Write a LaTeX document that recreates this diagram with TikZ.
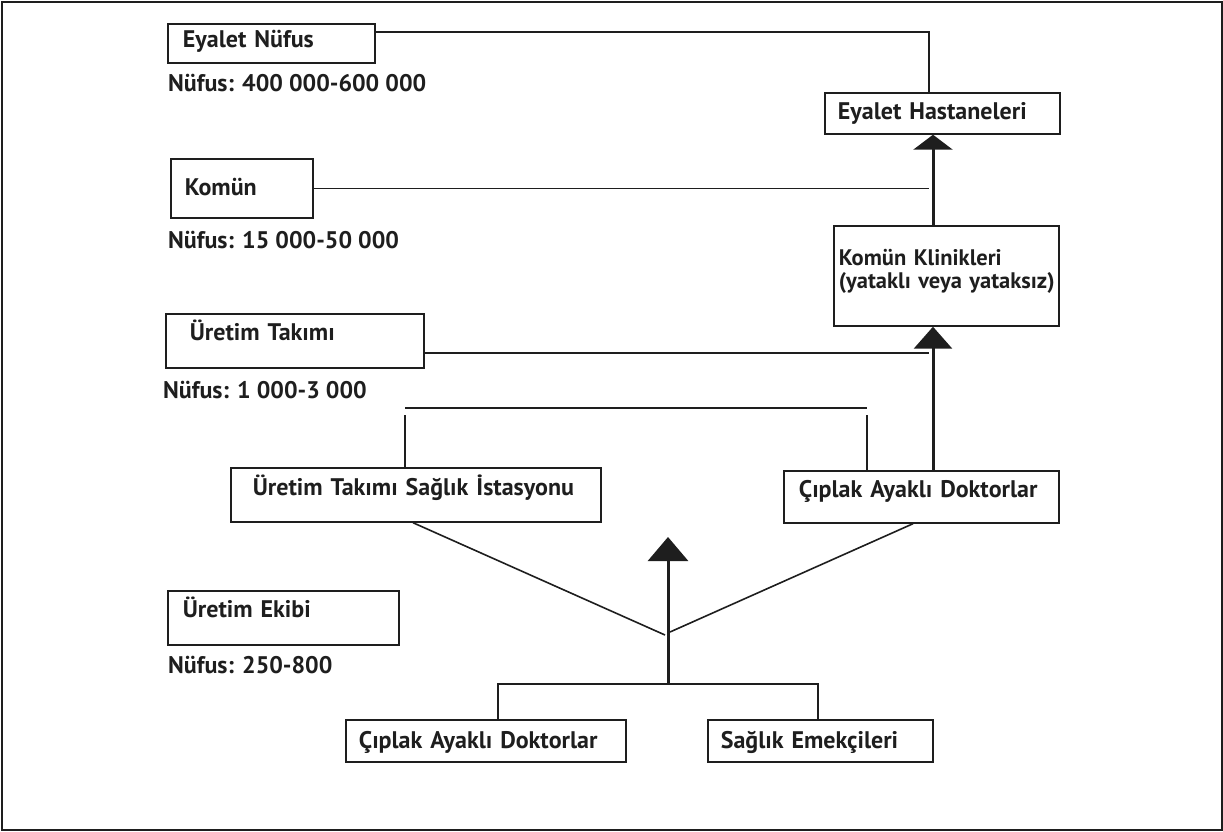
\documentclass[tikz,border=0pt]{standalone}
\usepackage{fontspec}
\setmainfont{PT Sans}
\usetikzlibrary{arrows.meta}
\definecolor{ink}{HTML}{1E1E1E}
\newcommand{\fs}{\fontsize{24}{23}\selectfont\bfseries}
\newcommand{\fss}{\fontsize{22.5}{23}\selectfont\bfseries}
\tikzset{
  box/.style={draw=ink, line width=1.7pt, inner ysep=0pt, align=left, anchor=north west, font=\fs, text=ink},
  lbl/.style={anchor=base west, inner sep=0pt, font=\fs, text=ink},
  ln/.style={draw=ink, line width=1.6pt},
  shaft/.style={draw=ink, line width=3pt},
}
\begin{document}
\begin{tikzpicture}[x=1pt, y=-1pt]
\useasboundingbox (0,0) rectangle (1223,831);
\draw[ink, line width=2pt] (1.5,1.5) rectangle (1221.5,829.5);

% left column
\node[box, inner xsep=15pt, text width=177pt, text height=24pt, text depth=15pt] (en) at (167,23) {Eyalet Nüfus};
\node[lbl] (enp) at (168,91) {Nüfus: 400 000-600 000};
\node[box, inner xsep=14pt, text width=114pt, text height=37pt, text depth=22pt] (km) at (170,158) {Komün};
\node[lbl] (kmp) at (168,248) {Nüfus: 15 000-50 000};
\node[box, inner xsep=24pt, text width=210pt, text height=27pt, text depth=27pt] (ut) at (165,313) {Üretim Takımı};
\node[lbl] (utp) at (163,398) {Nüfus: 1 000-3 000};
\node[box, inner xsep=15pt, text width=201pt, text height=27pt, text depth=27pt] (ue) at (167,590) {Üretim Ekibi};
\node[lbl] (uep) at (168,673) {Nüfus: 250-800};

% right column
\node[box, inner xsep=13pt, text width=209pt, text height=27pt, text depth=14pt] (eh) at (824,92) {Eyalet Hastaneleri};
\node[box, font=\fss, inner xsep=5pt, text width=215pt, text height=40pt, text depth=60pt] (kk) at (833,225) {\mbox{Komün Klinikleri}\\\mbox{(yataklı veya yataksız)}};
\node[box, inner xsep=15pt, text width=245pt, text height=27pt, text depth=25pt] (cr) at (783,470) {Çıplak Ayaklı Doktorlar};
\node[box, inner xsep=22pt, text width=326pt, text height=28pt, text depth=26pt] (ts) at (230,467) {Üretim Takımı Sağlık İstasyonu};
\node[box, inner xsep=13pt, text width=254pt, text height=29pt, text depth=13pt] (cb) at (345,719) {Çıplak Ayaklı Doktorlar};
\node[box, inner xsep=13pt, text width=199pt, text height=29pt, text depth=13pt] (se) at (707,719) {Sağlık Emekçileri};

% helper coordinates
\coordinate (ax) at (933,0);
\coordinate (vx) at (929,0);
\coordinate (bl) at (405,408);
\coordinate (br) at (867,408);
\coordinate (mtip) at (668,537);
\coordinate (mfork) at (668,684);
\coordinate (vl) at (665,635);
\coordinate (vr) at (670,632);
\coordinate (bbl) at (498,684);
\coordinate (bbr) at (818,684);

% horizontal links
\draw[ln] ([yshift=-9pt]en.north east) -| (eh.north -| vx);
\draw[ln] (km.east) -- (km.east -| vx);
\draw[ln] ([yshift=-12pt]ut.east) -- ([yshift=-12pt]ut.east -| vx);

% vertical arrows
\draw[shaft, -{Triangle[width=39pt,length=15pt]}] (kk.north -| ax) -- (eh.south -| ax);
\draw[shaft, -{Triangle[width=38pt,length=22pt]}] (cr.north -| ax) -- (kk.south -| ax);
\draw[shaft, -{Triangle[width=40pt,length=24pt]}] (mfork) -- (mtip);

% bracket over the stations
\draw[ln] (bl) -- (br);
\draw[ln] ([yshift=-7pt]bl) -- (ts.north -| bl);
\draw[ln] ([yshift=-7pt]br) -- (cr.north -| br);

% diagonals
\draw[ln] (ts.south -| 413,0) -- (vl);
\draw[ln] (vr) -- (cr.south -| 913,0);

% bottom bracket
\draw[ln] (cb.north -| bbl) -- (bbl) -- (bbr) -- (se.north -| bbr);
\end{tikzpicture}
\end{document}
